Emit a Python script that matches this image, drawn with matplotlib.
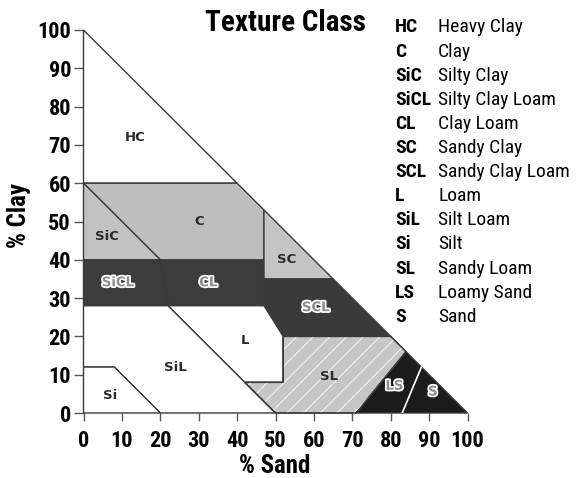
import matplotlib
matplotlib.use("Agg")
import matplotlib.pyplot as plt
from matplotlib.patches import Polygon
import matplotlib.patheffects as pe
from matplotlib import font_manager as fm

# --- data: class polygons (% sand, % clay) ---
HC = [(0, 60), (0, 100), (40, 60)]
C = [(0, 60), (40, 60), (47, 53), (47, 40), (20, 40)]
SiC = [(0, 60), (20, 40), (0, 40)]
SiCL = [(0, 40), (20, 40), (22, 28), (0, 28)]
CL = [(20, 40), (47, 40), (47, 28), (22, 28)]
SC = [(47, 53), (65, 35), (47, 35)]
SCL = [(47, 35), (65, 35), (80, 20), (52, 20), (47, 28)]
L = [(22, 28), (47, 28), (52, 20), (52, 8), (42, 8)]
SiL = [(0, 28), (22, 28), (42, 8), (50, 0), (20, 0), (8, 12), (0, 12)]
Si = [(0, 0), (0, 12), (8, 12), (20, 0)]
SL = [(42, 8), (52, 8), (52, 20), (80, 20), (84, 16), (71, 0), (50, 0)]
LS = [(71, 0), (84, 16), (88, 12), (83, 0)]
S = [(83, 0), (88, 12), (100, 0)]
LS_S_line = [(83, 0), (88, 12)]

abbrevs = ["HC", "C", "SiC", "SiCL", "CL", "SC", "SCL", "L", "SiL", "Si", "SL", "LS", "S"]
names = ["Heavy Clay", "Clay", "Silty Clay", "Silty Clay Loam", "Clay Loam", "Sandy Clay",
         "Sandy Clay Loam", "Loam", "Silt Loam", "Silt", "Sandy Loam", "Loamy Sand", "Sand"]
label_pos = {"HC": (13.5, 72), "C": (30, 50), "SiC": (6, 46), "SiCL": (9, 34), "CL": (32.5, 34),
             "SC": (53, 40), "SCL": (60.5, 27.5), "L": (42, 19), "SiL": (24, 12), "Si": (7, 4.5),
             "SL": (64, 9.5), "LS": (81, 7), "S": (91, 5.5)}
xticks = [0, 10, 20, 30, 40, 50, 60, 70, 80, 90, 100]
yticks = [0, 10, 20, 30, 40, 50, 60, 70, 80, 90, 100]

# --- pick a condensed font if one is installed ---
avail = {f.name for f in fm.fontManager.ttflist}
narrow = None
stretch = 'normal'
for cand in ['Roboto Condensed', 'Liberation Sans Narrow', 'Arial Narrow', 'Noto Sans Condensed',
             'Open Sans Condensed', 'DejaVu Sans Condensed']:
    if cand in avail:
        narrow = cand
        break
if narrow is None:
    conds = [f for f in fm.fontManager.ttflist
             if str(f.stretch) in ('condensed', 'semi-condensed', 'extra-condensed')
             and 'Mono' not in f.name and 'Serif' not in f.name and 'CJK' not in f.name]
    if conds:
        narrow = conds[0].name
        stretch = conds[0].stretch
if narrow is not None:
    FONT = [narrow, 'DejaVu Sans']
    sz_tick, sz_leg, sz_title, sz_lab = 16, 14, 21, 18
else:
    FONT = ['Roboto', 'DejaVu Sans']
    sz_tick, sz_leg, sz_title, sz_lab = 15, 13, 18.5, 17

plt.rcParams['font.family'] = FONT
plt.rcParams['font.stretch'] = stretch

polys = {"HC": HC, "C": C, "SiC": SiC, "SiCL": SiCL, "CL": CL, "SC": SC, "SCL": SCL,
         "L": L, "SiL": SiL, "Si": Si, "SL": SL, "LS": LS, "S": S}
colors = {"HC": "white", "C": "#bdbdbd", "SiC": "#c2c2c2", "SiCL": "#3c3c3c", "CL": "#3c3c3c",
          "SC": "#c4c4c4", "SCL": "#3a3a3a", "L": "white", "SiL": "white", "Si": "white",
          "SL": "#c6c6c6", "LS": "#1c1c1c", "S": "#1c1c1c"}
dark = {"SiCL", "CL", "SCL", "LS", "S"}

fig = plt.figure(figsize=(5.79, 4.78), dpi=100)
ax = fig.add_axes([83.5 / 579, 65 / 478, 384 / 579, 383 / 478])
ax.set_xlim(0, 100)
ax.set_ylim(0, 100)

plt.rcParams['hatch.linewidth'] = 0.6
for k, pts in polys.items():
    ax.add_patch(Polygon(pts, closed=True, facecolor=colors[k], edgecolor='#3a3a3a',
                         linewidth=1.0, clip_on=False, zorder=2))
    if k == "SL":
        ax.add_patch(Polygon(pts, closed=True, fill=False, hatch='//', edgecolor='white',
                             linewidth=0, clip_on=False, zorder=2.5))
        ax.add_patch(Polygon(pts, closed=True, fill=False, edgecolor='#3a3a3a',
                             linewidth=1.0, clip_on=False, zorder=2.6))

xs, ys = zip(*LS_S_line)
ax.plot(xs, ys, color='white', linewidth=1.2, zorder=3)

for k, (x, y) in label_pos.items():
    if k in dark:
        ax.text(x, y, k, ha='center', va='center', fontsize=9.5, fontweight='bold',
                family='DejaVu Sans', stretch='normal', color='#8c8c8c', zorder=5,
                path_effects=[pe.Stroke(linewidth=2.5, foreground='white'), pe.Normal()])
    else:
        ax.text(x, y, k, ha='center', va='center', fontsize=9.5, fontweight='bold',
                family='DejaVu Sans', stretch='normal', color='#2a2a2a', zorder=5)

for s in ['top', 'right', 'left', 'bottom']:
    ax.spines[s].set_visible(False)

ax.set_xticks(xticks)
ax.set_yticks(yticks)
ax.set_xticklabels([str(v) for v in xticks], fontsize=sz_tick, fontweight='bold')
ax.set_yticklabels([str(v) for v in yticks], fontsize=sz_tick, fontweight='bold')
ax.tick_params(axis='x', direction='out', length=6, width=1, color='#555555', pad=6)
ax.tick_params(axis='y', direction='out', length=7, width=1, color='#555555', pad=2)

fig.text(275 / 579, 1 - 466 / 478, "% Sand", ha='center', va='center', fontsize=sz_lab,
         fontweight='bold')
fig.text(19 / 579, 1 - 215 / 478, "% Clay", ha='center', va='center', fontsize=sz_lab,
         fontweight='bold', rotation=90)
fig.text(285 / 579, 1 - 23 / 478, "Texture Class", ha='center', va='center', fontsize=sz_title,
         fontweight='bold')

for i, (a, n) in enumerate(zip(abbrevs, names)):
    y = 1 - (27.5 + 24.1 * i) / 478
    fig.text(395 / 579, y, a, ha='left', va='center', fontsize=sz_leg, fontweight='bold')
    fig.text(438 / 579, y, n, ha='left', va='center', fontsize=sz_leg)

fig.savefig("out.png", dpi=100)
